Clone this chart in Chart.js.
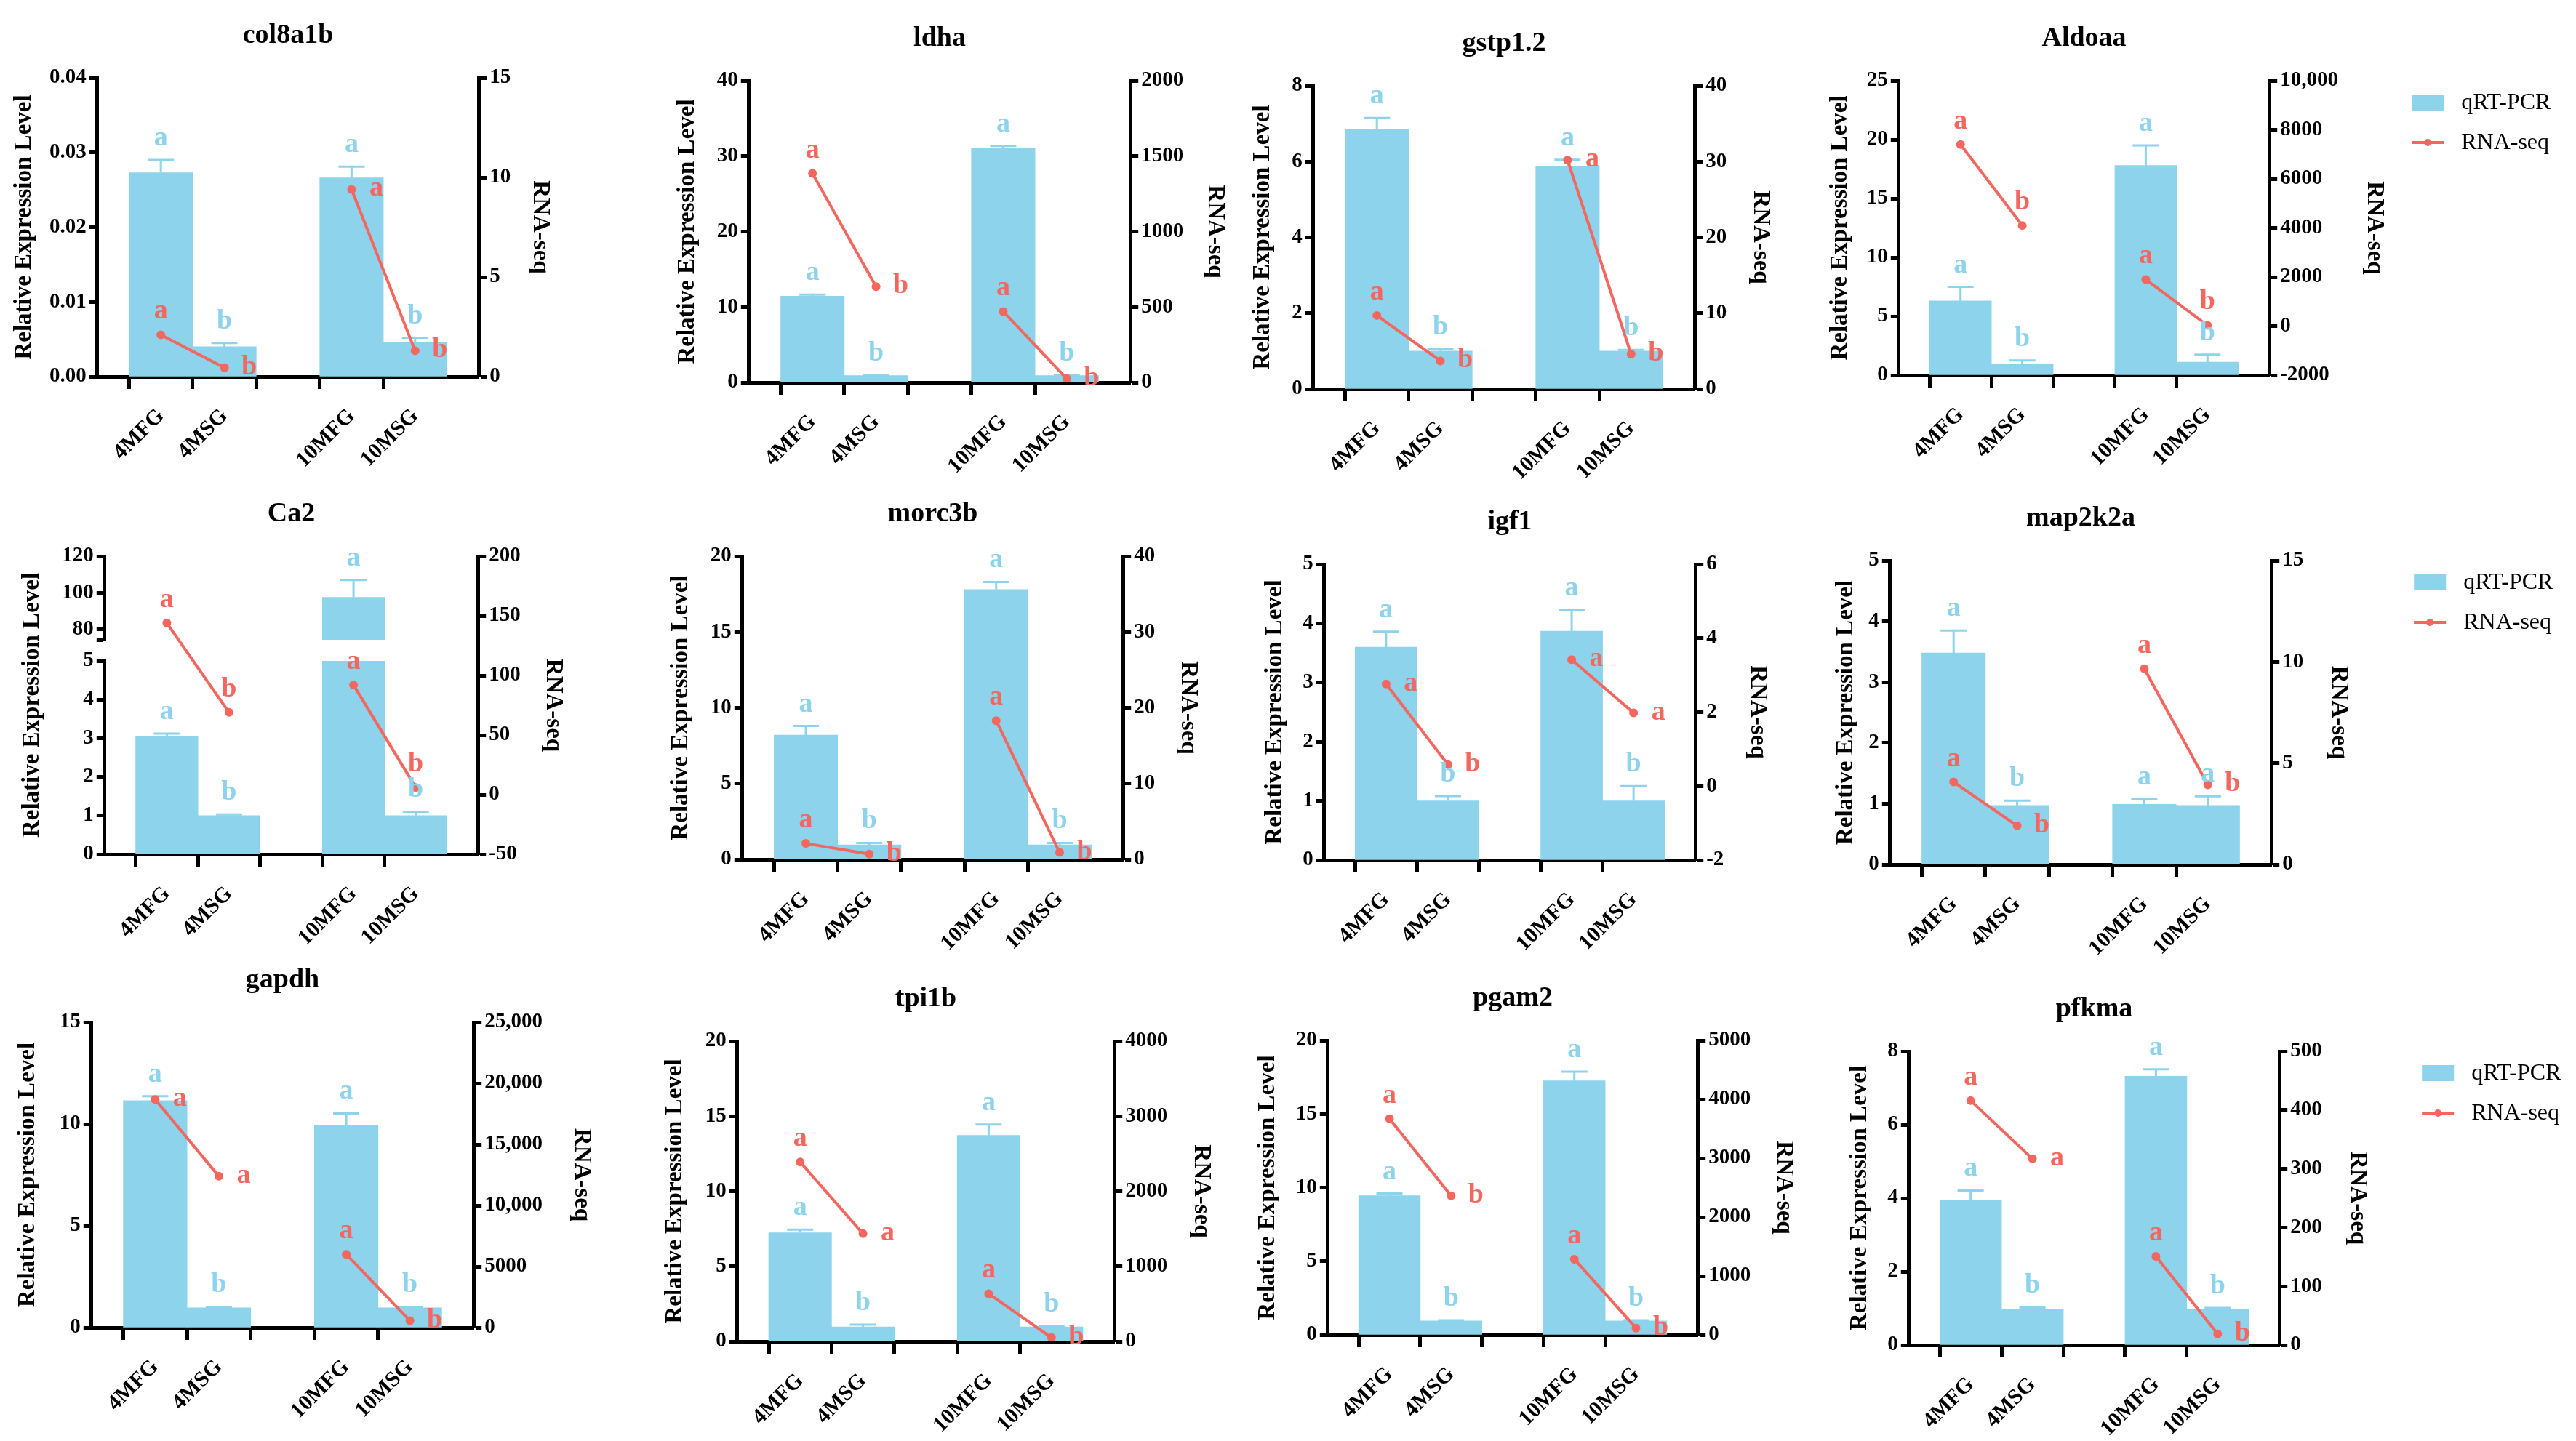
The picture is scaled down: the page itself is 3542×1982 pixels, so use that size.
<!DOCTYPE html>
<html>
<head>
<meta charset="utf-8">
<script src="https://cdn.jsdelivr.net/npm/chart.js@4.4.1/dist/chart.umd.min.js"></script>
<style>
  html, body { margin: 0; padding: 0; background: #fff; }
  body { width: 3542px; height: 1982px; position: relative; overflow: hidden; }
  canvas { position: absolute; }
</style>
</head>
<body>
<script>
// x categories: empty slots pad the ends and split the two age groups
const groups = ['', '4MFG', '4MSG', '', '10MFG', '10MSG', ''];

// qRT-PCR mean, qRT-PCR error (SD), RNA-seq value, significance letters
const col8a1bPcr = [0.0273, 0.0040, 0.0266, 0.0046];
const col8a1bErr = [0.0017, 0.0005, 0.0015, 0.0006];
const col8a1bSeq = [2.1, 0.45, 9.4, 1.3];
const col8a1bPcrSig = ['a', 'b', 'a', 'b'];
const col8a1bSeqSig = ['a', 'b', 'a', 'b'];

const ldhaPcr = [11.45, 0.9, 31.05, 0.9];
const ldhaErr = [0.2, 0.1, 0.3, 0.1];
const ldhaSeq = [1385, 635, 470, 25];
const ldhaPcrSig = ['a', 'b', 'a', 'b'];
const ldhaSeqSig = ['a', 'b', 'a', 'b'];

const gstpPcr = [6.85, 1.0, 5.87, 1.0];
const gstpErr = [0.3, 0.05, 0.18, 0.03];
const gstpSeq = [9.7, 3.7, 30.2, 4.6];
const gstpPcrSig = ['a', 'b', 'a', 'b'];
const gstpSeqSig = ['a', 'b', 'a', 'b'];

const aldoaaPcr = [6.3, 0.95, 17.8, 1.1];
const aldoaaErr = [1.2, 0.3, 1.7, 0.65];
const aldoaaSeq = [7400, 4100, 1900, 30];
const aldoaaPcrSig = ['a', 'b', 'a', 'b'];
const aldoaaSeqSig = ['a', 'b', 'a', 'b'];

const ca2Pcr = [3.05, 1.0, 97.5, 1.0];
const ca2Err = [0.07, 0.03, 9.5, 0.1];
const ca2Seq = [144, 69, 92, 6];
const ca2PcrSig = ['a', 'b', 'a', 'b'];
const ca2SeqSig = ['a', 'b', 'a', 'b'];

const morc3bPcr = [8.2, 0.95, 17.8, 0.95];
const morc3bErr = [0.6, 0.13, 0.5, 0.13];
const morc3bSeq = [2.1, 0.7, 18.3, 0.9];
const morc3bPcrSig = ['a', 'b', 'a', 'b'];
const morc3bSeqSig = ['a', 'b', 'a', 'b'];

const igf1Pcr = [3.6, 1.0, 3.87, 1.0];
const igf1Err = [0.26, 0.08, 0.35, 0.25];
const igf1Seq = [2.76, 0.58, 3.42, 1.98];
const igf1PcrSig = ['a', 'b', 'a', 'b'];
const igf1SeqSig = ['a', 'b', 'a', 'a'];

const map2k2aPcr = [3.48, 0.97, 0.99, 0.97];
const map2k2aErr = [0.37, 0.08, 0.09, 0.15];
const map2k2aSeq = [4.07, 1.91, 9.66, 3.93];
const map2k2aPcrSig = ['a', 'b', 'a', 'a'];
const map2k2aSeqSig = ['a', 'b', 'a', 'b'];

const gapdhPcr = [11.15, 0.97, 9.92, 0.97];
const gapdhErr = [0.22, 0.05, 0.6, 0.05];
const gapdhSeq = [18670, 12390, 6000, 560];
const gapdhPcrSig = ['a', 'b', 'a', 'b'];
const gapdhSeqSig = ['a', 'a', 'a', 'b'];

const tpi1bPcr = [7.24, 0.97, 13.72, 0.97];
const tpi1bErr = [0.21, 0.14, 0.72, 0.04];
const tpi1bSeq = [2390, 1435, 635, 50];
const tpi1bPcrSig = ['a', 'b', 'a', 'b'];
const tpi1bSeqSig = ['a', 'a', 'a', 'b'];

const pgam2Pcr = [9.45, 0.95, 17.25, 0.95];
const pgam2Err = [0.15, 0.04, 0.63, 0.04];
const pgam2Seq = [3670, 2360, 1285, 115];
const pgam2PcrSig = ['a', 'b', 'a', 'b'];
const pgam2SeqSig = ['a', 'b', 'a', 'b'];

const pfkmaPcr = [3.94, 0.98, 7.32, 0.98];
const pfkmaErr = [0.27, 0.04, 0.19, 0.03];
const pfkmaSeq = [416, 317, 151, 19];
const pfkmaPcrSig = ['a', 'b', 'a', 'b'];
const pfkmaSeqSig = ['a', 'a', 'a', 'b'];

const BLUE = '#8DD3EC';
const RED = '#F4665E';
const FONT = "'Liberation Serif', 'Times New Roman', serif";
const SLOTS = [1, 2, 4, 5];

// box = plot area [left, top, right, bottom] on the page; ld/rd = axis title distance
// seqPos: where the RNA-seq letter goes, u = above the point, r = to its right
const panels = [
    {name: 'col8a1b', pcr: col8a1bPcr, err: col8a1bErr, seq: col8a1bSeq, pcrSig: col8a1bPcrSig, seqSig: col8a1bSeqSig,
        seqPos: 'urrr', yl: [0, 0.04, 0.01, 2], yr: [0, 15, 5], box: [134, 107, 658, 518], ld: 100, rd: 84},
    {name: 'ldha', pcr: ldhaPcr, err: ldhaErr, seq: ldhaSeq, pcrSig: ldhaPcrSig, seqSig: ldhaSeqSig,
        seqPos: 'urur', yl: [0, 40, 10], yr: [0, 2000, 500], box: [1030, 111, 1554, 526], ld: 84, rd: 116},
    {name: 'gstp1.2', pcr: gstpPcr, err: gstpErr, seq: gstpSeq, pcrSig: gstpPcrSig, seqSig: gstpSeqSig,
        seqPos: 'urrr', yl: [0, 8, 2], yr: [0, 40, 10], box: [1806, 118, 2330, 535], ld: 69, rd: 90},
    {name: 'Aldoaa', pcr: aldoaaPcr, err: aldoaaErr, seq: aldoaaSeq, pcrSig: aldoaaPcrSig, seqSig: aldoaaSeqSig,
        seqPos: 'uuuu', yl: [0, 25, 5], yr: [-2000, 10000, 2000], box: [2611, 111, 3120, 516], ld: 80, rd: 144, legend: true},

    {name: 'Ca2', pcr: ca2Pcr, err: ca2Err, seq: ca2Seq, pcrSig: ca2PcrSig, seqSig: ca2SeqSig,
        seqPos: 'uuuu', yl: [0, 5, 1], yr: [-50, 200, 50], box: [144, 765, 657, 1175], ld: 99, rd: 103,
        brk: {high: [74.3, 120, 20], weights: [266, 29, 115]}},
    {name: 'morc3b', pcr: morc3bPcr, err: morc3bErr, seq: morc3bSeq, pcrSig: morc3bPcrSig, seqSig: morc3bSeqSig,
        seqPos: 'urur', yl: [0, 20, 5], yr: [0, 40, 10], box: [1021, 765, 1544, 1182], ld: 84, rd: 89},
    {name: 'igf1', pcr: igf1Pcr, err: igf1Err, seq: igf1Seq, pcrSig: igf1PcrSig, seqSig: igf1SeqSig,
        seqPos: 'rrrr', yl: [0, 5, 1], yr: [-2, 6, 2], box: [1821, 776, 2331, 1183], ld: 67, rd: 85},
    {name: 'map2k2a', pcr: map2k2aPcr, err: map2k2aErr, seq: map2k2aSeq, pcrSig: map2k2aPcrSig, seqSig: map2k2aSeqSig,
        seqPos: 'urur', yl: [0, 5, 1], yr: [0, 15, 5], box: [2599, 771, 3123, 1189], ld: 60, rd: 92, legend: true},

    {name: 'gapdh', pcr: gapdhPcr, err: gapdhErr, seq: gapdhSeq, pcrSig: gapdhPcrSig, seqSig: gapdhSeqSig,
        seqPos: 'rrur', yl: [0, 15, 5], yr: [0, 25000, 5000], box: [126, 1406, 651, 1826], ld: 87, rd: 148},
    {name: 'tpi1b', pcr: tpi1bPcr, err: tpi1bErr, seq: tpi1bSeq, pcrSig: tpi1bPcrSig, seqSig: tpi1bSeqSig,
        seqPos: 'urur', yl: [0, 20, 5], yr: [0, 4000, 1000], box: [1014, 1432, 1532, 1845], ld: 85, rd: 119},
    {name: 'pgam2', pcr: pgam2Pcr, err: pgam2Err, seq: pgam2Seq, pcrSig: pgam2PcrSig, seqSig: pgam2SeqSig,
        seqPos: 'urur', yl: [0, 20, 5], yr: [0, 5000, 1000], box: [1826, 1431, 2334, 1836], ld: 82, rd: 118},
    {name: 'pfkma', pcr: pfkmaPcr, err: pfkmaErr, seq: pfkmaSeq, pcrSig: pfkmaPcrSig, seqSig: pfkmaSeqSig,
        seqPos: 'urur', yl: [0, 8, 2], yr: [0, 500, 100], box: [2625, 1446, 3134, 1850], ld: 67, rd: 107, legend: true}
];

const TITLE_SIZE = 33;
const TOP = 100, HB = 150, LEGEND_W = 420;
const panelOf = new WeakMap();

function pad(v) { return [null, v[0], v[1], null, v[2], v[3], null]; }

function fmt(dec) {
    return v => {
        if (dec) return v.toFixed(dec);
        return Math.abs(v) >= 10000 ? v.toLocaleString('en-US') : String(v);
    };
}

function yScaleFor(chart, p, v) {
    if (p.brk && v > p.yl[1]) return chart.scales.yHigh;
    return chart.scales.y;
}

function yAxis(pos, range, width, extra) {
    const [min, max, step, dec] = range;
    return Object.assign({
        type: 'linear', position: pos, min: min, max: max,
        ticks: {stepSize: step, autoSkip: false, color: '#000', padding: 4,
            font: {family: FONT, size: 29, weight: 'bold'}, callback: fmt(dec)},
        grid: {drawOnChartArea: false, tickLength: 11, tickWidth: 5, tickColor: '#000'},
        border: {color: '#000', width: 5},
        title: {display: true, text: pos === 'left' ? 'Relative Expression Level' : 'RNA-seq', color: '#000', padding: 0,
            font: {family: FONT, size: TITLE_SIZE, weight: 'bold'}},
        afterFit: s => { s.width = width; }
    }, extra);
}

const annot = {
    id: 'annot',
    beforeDatasetsDraw(chart) {
        const p = panelOf.get(chart.canvas);
        const ctx = chart.ctx, x = chart.scales.x;
        ctx.save();
        ctx.strokeStyle = BLUE;
        ctx.lineWidth = 3;
        SLOTS.forEach((slot, i) => {
            const ys = yScaleFor(chart, p, p.pcr[i]);
            const px = x.getPixelForValue(slot);
            const y0 = ys.getPixelForValue(p.pcr[i]);
            const y1 = ys.getPixelForValue(p.pcr[i] + p.err[i]);
            ctx.beginPath();
            ctx.moveTo(px, y0); ctx.lineTo(px, y1);
            ctx.moveTo(px - 18, y1); ctx.lineTo(px + 18, y1);
            ctx.stroke();
        });
        ctx.restore();
    },
    afterDatasetsDraw(chart) {
        const p = panelOf.get(chart.canvas);
        const ctx = chart.ctx, x = chart.scales.x, a = chart.chartArea;
        const line = chart.getDatasetMeta(chart.data.datasets.length - 1);
        ctx.save();
        ctx.font = `bold 38px ${FONT}`;
        ctx.textAlign = 'center';
        ctx.textBaseline = 'alphabetic';
        SLOTS.forEach((slot, i) => {
            const ys = yScaleFor(chart, p, p.pcr[i]);
            ctx.fillStyle = BLUE;
            ctx.fillText(p.pcrSig[i], x.getPixelForValue(slot), ys.getPixelForValue(p.pcr[i] + p.err[i]) - 20);
            const pt = line.data[slot];
            ctx.fillStyle = RED;
            if (p.seqPos[i] === 'r') ctx.fillText(p.seqSig[i], pt.x + 34, pt.y + 9);
            else ctx.fillText(p.seqSig[i], pt.x, pt.y - 22);
        });

        ctx.fillStyle = '#000';
        ctx.font = `bold 38px ${FONT}`;
        ctx.textBaseline = 'middle';
        ctx.fillText(p.name, (a.left + a.right) / 2, a.top - 58);

        if (p.brk) {
            // broken axis: one title across both segments
            ctx.save();
            ctx.translate(a.left - p.ld, (a.top + a.bottom) / 2);
            ctx.rotate(-Math.PI / 2);
            ctx.font = `bold ${TITLE_SIZE}px ${FONT}`;
            ctx.fillText('Relative Expression Level', 0, 0);
            ctx.restore();
        }

        if (p.legend) {
            const lx = a.right + 196, ty = a.top;
            ctx.fillStyle = BLUE;
            ctx.fillRect(lx, ty + 19, 44, 22);
            ctx.strokeStyle = RED;
            ctx.lineWidth = 4;
            ctx.beginPath(); ctx.moveTo(lx, ty + 85); ctx.lineTo(lx + 44, ty + 85); ctx.stroke();
            ctx.fillStyle = RED;
            ctx.beginPath(); ctx.arc(lx + 22, ty + 85, 5, 0, Math.PI * 2); ctx.fill();
            ctx.fillStyle = '#000';
            ctx.font = `32px ${FONT}`;
            ctx.textAlign = 'left';
            ctx.fillText('qRT-PCR', lx + 68, ty + 31);
            ctx.fillText('RNA-seq', lx + 68, ty + 86);
        }
        ctx.restore();
    }
};

panels.forEach(p => {
    const [L, T, R, B] = p.box;
    const off = TITLE_SIZE * 0.6;
    const WL = p.ld + off, WR = p.rd + off, PR = p.legend ? LEGEND_W : 0;

    const c = document.createElement('canvas');
    c.width = Math.round(WL + (R - L) + WR + PR);
    c.height = TOP + (B - T) + HB;
    c.style.left = Math.round(L - WL) + 'px';
    c.style.top = (T - TOP) + 'px';
    document.body.appendChild(c);
    panelOf.set(c, p);

    const scales = {
        x: {
            type: 'category', offset: false,
            ticks: {autoSkip: false, minRotation: 45, maxRotation: 45, color: '#000', padding: 20,
                font: {family: FONT, size: 30, weight: 'bold'}},
            grid: {drawOnChartArea: false, tickLength: 17, tickWidth: 5,
                tickColor: ctx => (ctx.index === 0 || ctx.index === 6) ? 'rgba(0,0,0,0)' : '#000'},
            border: {color: '#000', width: 5},
            afterFit: s => { s.height = HB; }
        },
        y1: yAxis('right', p.yr, WR)
    };

    const datasets = [];
    if (p.brk) {
        const [wLow, wGap, wHigh] = p.brk.weights;
        const hi = p.brk.high;
        scales.y = yAxis('left', p.yl, WL, {stack: 'ca', stackWeight: wLow, weight: 1});
        scales.y.title = {display: false};
        scales.yGap = {type: 'linear', position: 'left', stack: 'ca', stackWeight: wGap, weight: 2, min: 0, max: 1,
            ticks: {display: false}, grid: {display: false}, border: {display: false},
            afterFit: s => { s.width = WL; }};
        scales.yHigh = yAxis('left', hi, WL, {stack: 'ca', stackWeight: wHigh, weight: 3});
        scales.yHigh.title = {display: false};
        scales.yHigh.ticks.includeBounds = false;
        scales.yHigh.ticks.callback = v => (v % hi[2] === 0 ? String(v) : '');
        // unlabeled end tick at the bottom of the upper segment
        scales.yHigh.afterBuildTicks = s => { s.ticks.unshift({value: hi[0]}); };

        datasets.push({type: 'bar', label: 'qRT-PCR', data: pad(p.pcr.map(v => Math.min(v, p.yl[1]))),
            yAxisID: 'y', backgroundColor: BLUE, grouped: false, barPercentage: 1, categoryPercentage: 1, order: 2});
        datasets.push({type: 'bar', label: 'qRT-PCR high', data: pad(p.pcr.map(v => v > p.yl[1] ? [hi[0], v] : null)),
            yAxisID: 'yHigh', backgroundColor: BLUE, grouped: false, barPercentage: 1, categoryPercentage: 1, order: 2});
    } else {
        scales.y = yAxis('left', p.yl, WL);
        datasets.push({type: 'bar', label: 'qRT-PCR', data: pad(p.pcr), yAxisID: 'y',
            backgroundColor: BLUE, barPercentage: 1, categoryPercentage: 1, order: 2});
    }
    datasets.push({type: 'line', label: 'RNA-seq', data: pad(p.seq), yAxisID: 'y1',
        borderColor: RED, backgroundColor: RED, borderWidth: 4, pointRadius: 6, pointBorderWidth: 0,
        pointBackgroundColor: RED, spanGaps: false, order: 1});

    new Chart(c, {
        type: 'bar',
        data: {labels: groups, datasets: datasets},
        options: {
            responsive: false,
            animation: false,
            events: [],
            layout: {padding: {top: TOP, right: PR, left: 0, bottom: 0}},
            plugins: {legend: {display: false}, tooltip: {enabled: false}},
            scales: scales
        },
        plugins: [annot]
    });
});
</script>
</body>
</html>
